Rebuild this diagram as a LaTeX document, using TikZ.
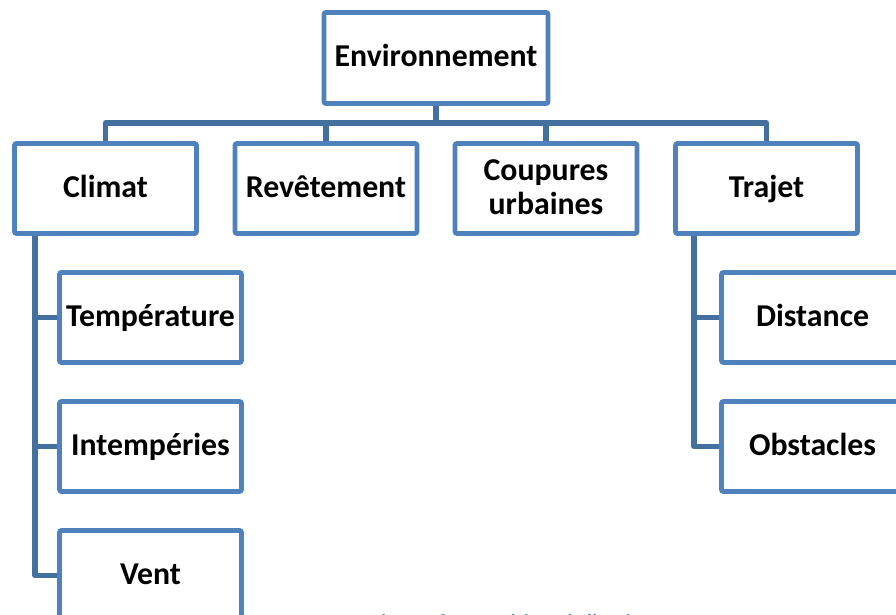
\documentclass[tikz,border=0pt]{standalone}
\usepackage{fontspec}
\setmainfont{Carlito}
\definecolor{boxblue}{HTML}{4F81BD}
\definecolor{linkblue}{HTML}{44709F}
% fixed line height so every label shares the same baseline
\newcommand\lblstrut{\rule[-7pt]{0pt}{31pt}}
\tikzset{
  unitbox/.style={draw=boxblue, line width=4.75pt, rounded corners=2pt, fill=white,
    minimum width=182pt, minimum height=90pt, inner sep=0pt, align=center,
    font=\fontsize{31.8}{34}\selectfont\bfseries, text=black},
  link/.style={draw=linkblue, line width=5.5pt, line join=round},
  captiontext/.style={font=\fontsize{20}{24}\selectfont\bfseries, text=boxblue, inner sep=0pt}
}
\begin{document}
\begin{tikzpicture}[x=1pt, y=-1pt]
  \path[use as bounding box, clip] (0,0) rectangle (896,615);

  % tree nodes
  \node[unitbox, minimum width=224pt, minimum height=91pt] (env) at (436,58) {\lblstrut Environnement};
  \node[unitbox] (climat) at (105.5,188.5) {\lblstrut Climat};
  \node[unitbox] (revet) at (326,188.5) {\lblstrut Revêtement};
  \node[unitbox] (coup) at (546,188.5) {\lblstrut Coupures\\\lblstrut urbaines};
  \node[unitbox] (trajet) at (766.5,188.5) {\lblstrut Trajet};
  \node[unitbox] (temp) at (150.5,317.5) {\lblstrut Température};
  \node[unitbox] (intemp) at (150.5,446.5) {\lblstrut Intempéries};
  \node[unitbox] (vent) at (150.5,575.5) {\lblstrut Vent};
  \node[unitbox] (dist) at (812.5,317.5) {\lblstrut Distance};
  \node[unitbox] (obst) at (812.5,446.5) {\lblstrut Obstacles};

  % bus lines
  \coordinate (bus) at (0,123);
  \coordinate (cbus) at (35,0);
  \coordinate (tbus) at (694,0);

  \draw[link] (env.south) -- (env.south |- bus);
  \draw[link] (climat.north) -- (climat.north |- bus) -- (trajet.north |- bus) -- (trajet.north);
  \draw[link] (revet.north) -- (revet.north |- bus);
  \draw[link] (coup.north) -- (coup.north |- bus);

  \draw[link] (climat.south -| cbus) -- (cbus |- vent.west) -- (vent.west);
  \draw[link] (cbus |- temp.west) -- (temp.west);
  \draw[link] (cbus |- intemp.west) -- (intemp.west);

  \draw[link] (trajet.south -| tbus) -- (tbus |- obst.west) -- (obst.west);
  \draw[link] (tbus |- dist.west) -- (dist.west);

  % caption below the tree
  \node[captiontext, anchor=base west] (cap) at (372,628) {Figure 18 : Les critères de l'environnement};
\end{tikzpicture}
\end{document}
